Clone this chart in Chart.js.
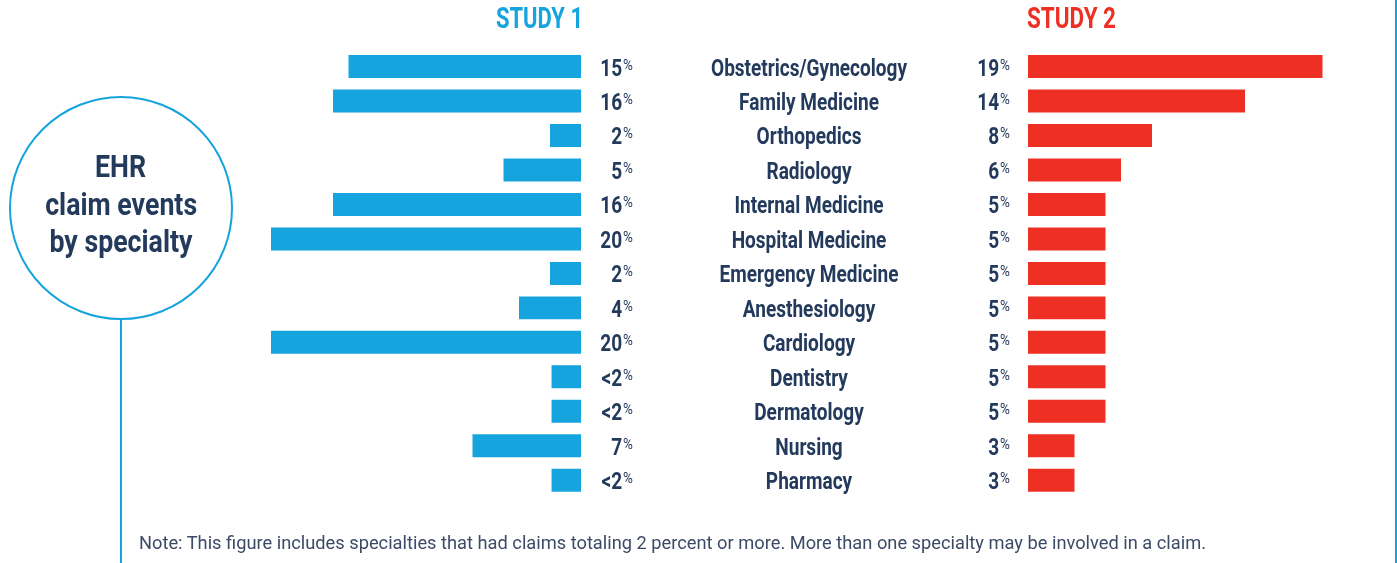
<!DOCTYPE html>
<html>
<head>
<meta charset="utf-8">
<script src="https://cdn.jsdelivr.net/npm/chart.js@4.4.1/dist/chart.umd.min.js"></script>
<style>
  body { margin: 0; background: #fff; }
  #wrap { position: relative; width: 1397px; height: 563px; overflow: hidden;
          font-family: Roboto, "Noto Sans", sans-serif; color: #233a5c; }
  canvas { position: absolute; left: 0; top: 0; }
  .title { position: absolute; width: 300px; text-align: center; font-weight: bold;
           font-size: 29.5px; line-height: 29.5px; }
  .title span, .circle-text span { display: inline-block; transform-origin: center; }
  .circle { position: absolute; left: 9px; top: 96px; width: 224px; height: 224px;
            box-sizing: border-box; border: 2px solid #15a4dd; border-radius: 50%; }
  .circle-text { position: absolute; left: 0; width: 242px; text-align: center;
                 font-weight: bold; font-size: 31px; line-height: 37.5px; }
  .stem { position: absolute; left: 120px; top: 319px; width: 2px; height: 244px; background: #15a4dd; }
  .edge { position: absolute; left: 1395px; top: 0; width: 2px; height: 563px; background: #15a4dd; }
  .note { position: absolute; left: 139px; font-size: 18.7px; line-height: 18.7px;
          color: #3c4a66; white-space: nowrap; }
  .note span { display: inline-block; transform-origin: left; }
</style>
</head>
<body>
<div id="wrap">
  <canvas id="leftChart" width="1397" height="563"></canvas>
  <canvas id="rightChart" width="1397" height="563"></canvas>
  <div class="title" style="left:389px;top:4px;color:#15a4dd"><span data-w="87">STUDY 1</span></div>
  <div class="title" style="left:921px;top:4px;color:#ee3024"><span data-w="89">STUDY 2</span></div>
  <div class="circle"></div>
  <div class="stem"></div>
  <div class="circle-text" style="top:148px">
    <span class="cl">EHR</span><br><span class="cl" id="claimLine">claim events</span><br><span class="cl">by specialty</span>
  </div>
  <div class="edge"></div>
  <div class="note" style="top:534px"><span data-w="1067">Note: This figure includes specialties that had claims totaling 2 percent or more. More than one specialty may be involved in a claim.</span></div>
</div>
<script>
const categories = ['Obstetrics/Gynecology', 'Family Medicine', 'Orthopedics', 'Radiology',
    'Internal Medicine', 'Hospital Medicine', 'Emergency Medicine', 'Anesthesiology',
    'Cardiology', 'Dentistry', 'Dermatology', 'Nursing', 'Pharmacy'];
// "<2" bars are drawn a touch shorter than the 2% bar
const study1Values = [15, 16, 2, 5, 16, 20, 2, 4, 20, 1.9, 1.9, 7, 1.9];
const study1Labels = ['15', '16', '2', '5', '16', '20', '2', '4', '20', '<2', '<2', '7', '<2'];
const study2Values = [19, 14, 8, 6, 5, 5, 5, 5, 5, 5, 5, 3, 3];
const study2Labels = ['19', '14', '8', '6', '5', '5', '5', '5', '5', '5', '5', '3', '3'];
const axisMax = 20;

const BLUE = '#15a4dd';
const RED = '#ee3024';
const NAVY = '#233a5c';
const FONT = 'Roboto, "Noto Sans", sans-serif';
const LABEL_FONT = 'bold 23.5px ' + FONT;
const PCT_FONT = '15px ' + FONT;

// the original uses a condensed face, so squeeze the text horizontally
document.querySelectorAll('[data-w]').forEach(el => {
    const w = el.getBoundingClientRect().width;
    el.style.transform = 'scaleX(' + (Number(el.dataset.w) / w) + ')';
});
const claimScale = 152 / document.getElementById('claimLine').getBoundingClientRect().width;
document.querySelectorAll('.cl').forEach(el => {
    el.style.transform = 'scaleX(' + claimScale + ')';
});

let condense = 1;
{
    const c = document.createElement('canvas').getContext('2d');
    c.font = LABEL_FONT;
    condense = 196 / c.measureText('Obstetrics/Gynecology').width;
}

function squeezedText(ctx, text, x, y, align, sx) {
    ctx.save();
    ctx.scale(sx, 1);
    ctx.textAlign = align;
    ctx.fillText(text, x / sx, y);
    ctx.restore();
}

function labelPlugin(texts, rightX, drawCategories) {
    return {
        id: 'barLabels',
        afterDatasetsDraw(chart) {
            const ctx = chart.ctx;
            const bars = chart.getDatasetMeta(0).data;
            ctx.save();
            ctx.fillStyle = NAVY;
            ctx.textBaseline = 'alphabetic';
            bars.forEach((bar, i) => {
                ctx.font = PCT_FONT;
                const pctWidth = ctx.measureText('%').width * 0.9;
                squeezedText(ctx, '%', rightX, bar.y + 3, 'right', 0.9);
                ctx.font = LABEL_FONT;
                squeezedText(ctx, texts[i], rightX - pctWidth - 1, bar.y + 9, 'right', condense);
                if (drawCategories) {
                    squeezedText(ctx, categories[i], 809, bar.y + 9, 'center', condense);
                }
            });
            ctx.restore();
        }
    };
}

function createChart(id, values, color, padding, reverse, plugin) {
    return new Chart(document.getElementById(id), {
        type: 'bar',
        data: {
            labels: categories,
            datasets: [{
                data: values,
                backgroundColor: color,
                barPercentage: 0.667,
                categoryPercentage: 1
            }]
        },
        options: {
            indexAxis: 'y',
            responsive: false,
            animation: false,
            layout: {padding: padding},
            plugins: {legend: {display: false}, tooltip: {enabled: false}},
            scales: {
                x: {display: false, reverse: reverse, min: 0, max: axisMax},
                y: {display: false}
            }
        },
        plugins: [plugin]
    });
}

createChart('leftChart', study1Values, BLUE,
    {left: 271, right: 1397 - 581, top: 49.3, bottom: 563 - 497.5}, true,
    labelPlugin(study1Labels, 633, false));
createChart('rightChart', study2Values, RED,
    {left: 1028, right: 1397 - 1338, top: 49.3, bottom: 563 - 497.5}, false,
    labelPlugin(study2Labels, 1010, true));
</script>
</body>
</html>
